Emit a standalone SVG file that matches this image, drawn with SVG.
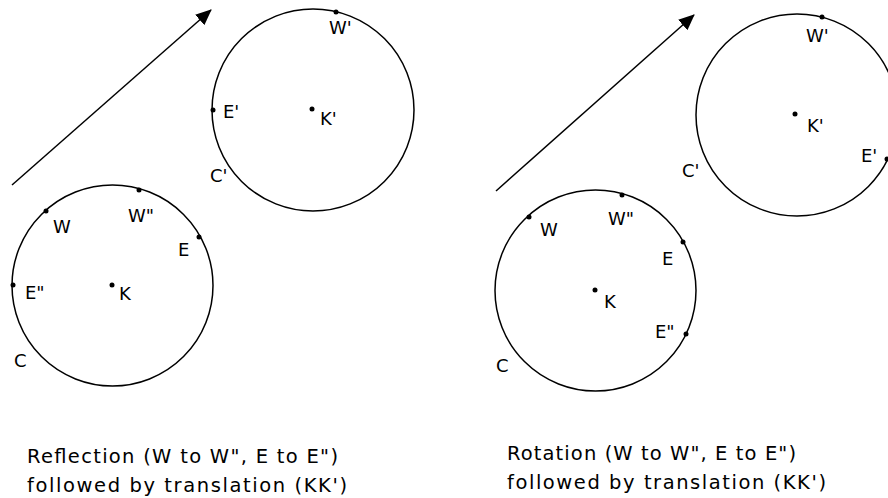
<svg xmlns="http://www.w3.org/2000/svg" width="888" height="498" viewBox="0 0 888 498">
<defs>
<style>
.c{fill:none;stroke:#000;stroke-width:1.5}
.d{fill:#000}
.t{font-family:"DejaVu Sans","Liberation Sans",sans-serif;font-size:18px;fill:#000}
.cap{font-family:"DejaVu Sans","Liberation Sans",sans-serif;font-size:19.5px;fill:#000}
.a{stroke:#000;stroke-width:1.5;fill:none}
</style>
<marker id="ah" viewBox="0 0 16 14" refX="15" refY="7" markerWidth="16" markerHeight="14" markerUnits="userSpaceOnUse" orient="auto">
<path d="M0,0 L16,7 L0,14 Z" fill="#000"/>
</marker>
</defs>
<rect width="888" height="498" fill="#fff"/>
<g id="connectors">
<line class="a" x1="12" y1="185" x2="211" y2="10" marker-end="url(#ah)"/>
<line class="a" x1="496" y1="191" x2="694" y2="15" marker-end="url(#ah)"/>
</g>
<g id="left-C">
<circle class="c" cx="112.5" cy="285.5" r="100.5"/>
<circle class="d" cx="112" cy="285" r="2.5"/>
<circle class="d" cx="46" cy="211" r="2.5"/>
<circle class="d" cx="139" cy="190" r="2.5"/>
<circle class="d" cx="199" cy="237" r="2.5"/>
<circle class="d" cx="13" cy="285" r="2.5"/>
<text class="t" x="53" y="233">W</text>
<text class="t" x="128" y="222">W"</text>
<text class="t" x="178" y="256">E</text>
<text class="t" x="25" y="299">E"</text>
<text class="t" x="119" y="300">K</text>
<text class="t" x="14" y="367">C</text>
</g>
<g id="left-Cprime">
<circle class="c" cx="313" cy="110" r="101"/>
<circle class="d" cx="312" cy="109" r="2.5"/>
<circle class="d" cx="336" cy="12" r="2.5"/>
<circle class="d" cx="213" cy="110" r="2.5"/>
<text class="t" x="329" y="34">W'</text>
<text class="t" x="223" y="118">E'</text>
<text class="t" x="320" y="125">K'</text>
<text class="t" x="210" y="182">C'</text>
</g>
<g id="right-C">
<circle class="c" cx="595.5" cy="290.5" r="100.5"/>
<circle class="d" cx="595" cy="290" r="2.5"/>
<circle class="d" cx="529" cy="217" r="2.5"/>
<circle class="d" cx="622" cy="195" r="2.5"/>
<circle class="d" cx="683" cy="242" r="2.5"/>
<circle class="d" cx="686" cy="334" r="2.5"/>
<text class="t" x="540" y="236">W</text>
<text class="t" x="608" y="225">W"</text>
<text class="t" x="662" y="265">E</text>
<text class="t" x="604" y="308">K</text>
<text class="t" x="655" y="338">E"</text>
<text class="t" x="496" y="372">C</text>
</g>
<g id="right-Cprime">
<circle class="c" cx="797" cy="115" r="101"/>
<circle class="d" cx="795" cy="114" r="2.5"/>
<circle class="d" cx="822" cy="17" r="2.5"/>
<circle class="d" cx="887" cy="159" r="2.5"/>
<text class="t" x="806" y="42">W'</text>
<text class="t" x="807" y="132">K'</text>
<text class="t" x="861" y="162">E'</text>
<text class="t" x="682" y="177">C'</text>
</g>
<g id="caption-left">
<text class="cap" x="27" y="463" textLength="311" lengthAdjust="spacing">Reflection (W to W", E to E")</text>
<text class="cap" x="27" y="492" textLength="320" lengthAdjust="spacing">followed by translation (KK')</text>
</g>
<g id="caption-right">
<text class="cap" x="507" y="460" textLength="289" lengthAdjust="spacing">Rotation (W to W", E to E")</text>
<text class="cap" x="507" y="489" textLength="319" lengthAdjust="spacing">followed by translation (KK')</text>
</g>
</svg>
